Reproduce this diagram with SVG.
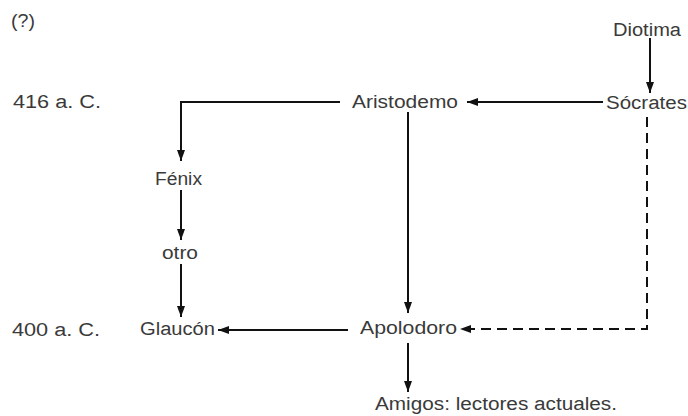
<svg xmlns="http://www.w3.org/2000/svg" width="688" height="416" viewBox="0 0 688 416">
<defs>
<marker id="ah" markerUnits="userSpaceOnUse" markerWidth="11" markerHeight="8" refX="11" refY="4" orient="auto">
<path d="M0,0 L11,4 L0,8 z" fill="#111"/>
</marker>
<style>
text{font-family:"Liberation Sans",Arial,sans-serif;font-size:18px;fill:#3a3a3a}
.c{fill:none;stroke:#111;stroke-width:2}
.d{stroke-dasharray:10 6}
</style>
</defs>
<rect width="688" height="416" fill="#fff"/>
<g id="labels">
<text x="11" y="27" font-size="15" textLength="24" lengthAdjust="spacingAndGlyphs">(?)</text>
<text x="13" y="108" textLength="88" lengthAdjust="spacingAndGlyphs">416 a. C.</text>
<text x="12" y="336" textLength="88" lengthAdjust="spacingAndGlyphs">400 a. C.</text>
</g>
<g id="connectors">
<line class="c" x1="650" y1="38" x2="650" y2="93" marker-end="url(#ah)"/>
<line class="c" x1="603" y1="102" x2="467" y2="102" marker-end="url(#ah)"/>
<polyline class="c" points="340,102 181,102 181,161" marker-end="url(#ah)"/>
<line class="c" x1="181" y1="190" x2="181" y2="240" marker-end="url(#ah)"/>
<line class="c" x1="181" y1="264" x2="181" y2="317" marker-end="url(#ah)"/>
<line class="c" x1="408" y1="112" x2="408" y2="313" marker-end="url(#ah)"/>
<polyline class="c d" points="647,117 647,329 460,329" marker-end="url(#ah)"/>
<line class="c" x1="348" y1="330" x2="218" y2="330" marker-end="url(#ah)"/>
<line class="c" x1="408" y1="343" x2="408" y2="392" marker-end="url(#ah)"/>
</g>
<g id="diotima"><text x="613" y="36" textLength="68" lengthAdjust="spacingAndGlyphs">Diotima</text></g>
<g id="socrates"><text x="606" y="109" textLength="81" lengthAdjust="spacingAndGlyphs">Sócrates</text></g>
<g id="aristodemo"><text x="352" y="108" textLength="106" lengthAdjust="spacingAndGlyphs">Aristodemo</text></g>
<g id="fenix"><text x="155" y="185" textLength="47" lengthAdjust="spacingAndGlyphs">Fénix</text></g>
<g id="otro"><text x="162" y="259" textLength="36" lengthAdjust="spacingAndGlyphs">otro</text></g>
<g id="glaucon"><text x="140" y="335" textLength="75" lengthAdjust="spacingAndGlyphs">Glaucón</text></g>
<g id="apolodoro"><text x="360" y="334" textLength="97" lengthAdjust="spacingAndGlyphs">Apolodoro</text></g>
<g id="amigos"><text x="375" y="410" textLength="242" lengthAdjust="spacingAndGlyphs">Amigos: lectores actuales.</text></g>
</svg>
